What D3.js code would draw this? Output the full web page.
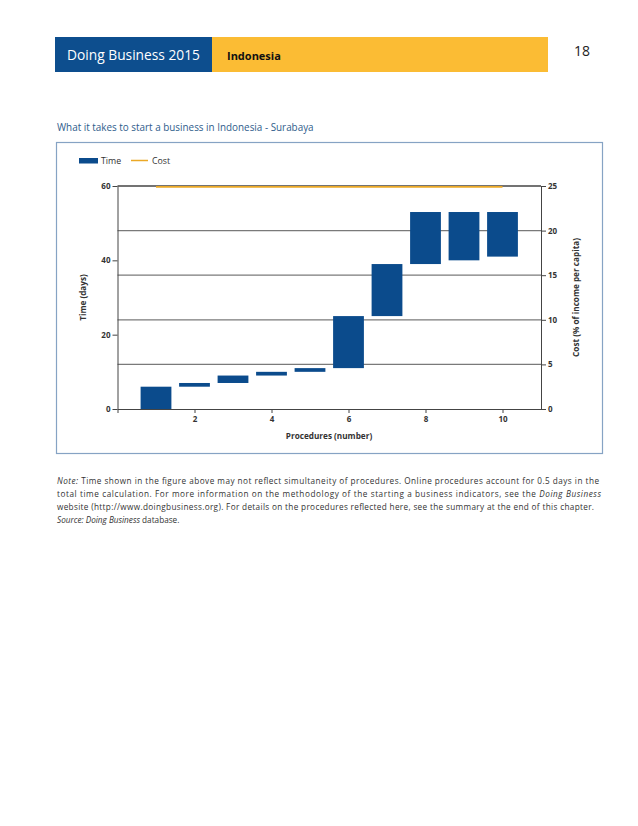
<!DOCTYPE html>
<html>
<head>
<meta charset="utf-8">
<script src="https://cdn.jsdelivr.net/npm/d3@7"></script>
<style>
  html, body { margin: 0; padding: 0; background: #fff; }
  svg { display: block; }
  text { font-family: "Open Sans", "Noto Sans", sans-serif; }
</style>
</head>
<body>
<svg id="chart" width="638" height="826"></svg>
<script>
// ---- data ----
const procedures = [1, 2, 3, 4, 5, 6, 7, 8, 9, 10];
const timeStart = [0, 6, 7, 9, 10, 11, 25, 39, 40, 41];
const timeEnd   = [6, 7, 9, 10, 11, 25, 39, 53, 53, 53];
const costValues = [24.9, 24.9, 24.9, 24.9, 24.9, 24.9, 24.9, 24.9, 24.9, 24.9];
const xTicks = [2, 4, 6, 8, 10];
const timeTicks = [0, 20, 40, 60];
const costTicks = [0, 5, 10, 15, 20, 25];
const gridCost = [5, 10, 15, 20, 25];

const svg = d3.select("#chart");
svg.append("rect").attr("width", 638).attr("height", 826).attr("fill", "#fff");

// ---- header banner ----
svg.append("rect").attr("x", 55).attr("y", 37).attr("width", 157).attr("height", 35).attr("fill", "#0d4e8e");
svg.append("rect").attr("x", 212).attr("y", 37).attr("width", 336).attr("height", 35).attr("fill", "#fbbc34");
svg.append("text").attr("x", 67).attr("y", 60).attr("fill", "#fff").attr("font-size", 14)
  .attr("textLength", 133).attr("lengthAdjust", "spacingAndGlyphs").text("Doing Business 2015");
svg.append("text").attr("x", 227).attr("y", 60).attr("fill", "#111").attr("font-size", 11).attr("font-weight", "bold").text("Indonesia");
svg.append("text").attr("x", 574).attr("y", 56).attr("fill", "#222").attr("font-size", 14).text("18");

// ---- chart title ----
svg.append("text").attr("x", 57).attr("y", 131).attr("fill", "#2f5d8c").attr("font-size", 9.9)
  .text("What it takes to start a business in Indonesia - Surabaya");

// ---- frame ----
svg.append("rect").attr("x", 56.5).attr("y", 142.5).attr("width", 546).attr("height", 311)
  .attr("fill", "none").attr("stroke", "#86a3c4").attr("stroke-width", 1.2);

// ---- scales ----
const x = d3.scaleLinear().domain([0, 11]).range([117.5, 541]);
const yT = d3.scaleLinear().domain([0, 60]).range([409, 186]);
const yC = d3.scaleLinear().domain([0, 25]).range([409, 186]);

// ---- gridlines ----
svg.append("g").selectAll("line").data(gridCost).join("line")
  .attr("x1", x(0)).attr("x2", x(11))
  .attr("y1", d => yC(d)).attr("y2", d => yC(d))
  .attr("stroke", d => d === 25 ? "#444" : "#7a7a7a").attr("stroke-width", 1.3);

// ---- bars ----
const barColor = "#0b4b8c";
const bw = 0.8;
svg.append("g").selectAll("rect").data(procedures).join("rect")
  .attr("x", (d) => x(d - bw / 2))
  .attr("width", (d) => x(d + bw / 2) - x(d - bw / 2))
  .attr("y", (d, i) => yT(timeEnd[i]))
  .attr("height", (d, i) => yT(timeStart[i]) - yT(timeEnd[i]))
  .attr("fill", barColor);

// ---- cost line ----
const line = d3.line().x((d, i) => x(procedures[i])).y(d => yC(d));
svg.append("path").datum(costValues).attr("d", line)
  .attr("fill", "none").attr("stroke", "#eba826").attr("stroke-width", 1.8);

// ---- axes ----
function styleAxis(g) {
  g.selectAll("path, line").attr("stroke", "#444").attr("stroke-width", 1);
  g.selectAll("text").attr("font-size", 8).attr("font-weight", "bold").attr("fill", "#333")
    .attr("font-family", "\"Open Sans\", sans-serif");
}
svg.append("g").attr("transform", `translate(${x(0)},0)`)
  .call(d3.axisLeft(yT).tickValues(timeTicks).tickSize(5).tickSizeOuter(0).tickPadding(2))
  .call(styleAxis);
svg.append("g").attr("transform", `translate(${x(11)},0)`)
  .call(d3.axisRight(yC).tickValues(costTicks).tickSize(5).tickSizeOuter(0).tickPadding(2))
  .call(styleAxis);
svg.append("g").attr("transform", `translate(0,${yT(0)})`)
  .call(d3.axisBottom(x).tickValues([0].concat(xTicks)).tickFormat(d => d === 0 ? "" : d).tickSize(4).tickSizeOuter(0).tickPadding(3))
  .call(styleAxis);

// axis titles
svg.append("text").attr("transform", `translate(86,${(yT(0) + yT(60)) / 2}) rotate(-90)`)
  .attr("text-anchor", "middle").attr("font-size", 8.2).attr("font-weight", "bold").attr("fill", "#333")
  .text("Time (days)");
svg.append("text").attr("transform", `translate(579,${(yC(0) + yC(25)) / 2}) rotate(-90)`)
  .attr("text-anchor", "middle").attr("font-size", 8.2).attr("font-weight", "bold").attr("fill", "#333")
  .text("Cost (% of income per capita)");
svg.append("text").attr("x", 329).attr("y", 439).attr("text-anchor", "middle")
  .attr("font-size", 8.2).attr("font-weight", "bold").attr("fill", "#333")
  .text("Procedures (number)");

// ---- legend ----
svg.append("rect").attr("x", 79).attr("y", 158).attr("width", 19).attr("height", 5.5).attr("fill", barColor);
svg.append("text").attr("x", 101).attr("y", 164).attr("font-size", 8.8).attr("fill", "#333").text("Time");
svg.append("line").attr("x1", 131).attr("x2", 148).attr("y1", 160.5).attr("y2", 160.5)
  .attr("stroke", "#eba826").attr("stroke-width", 1.5);
svg.append("text").attr("x", 152).attr("y", 164).attr("font-size", 8.8).attr("fill", "#333").text("Cost");

// ---- note ----
const noteLines = [
  { parts: [["Note:", true], [" Time shown in the figure above may not reflect simultaneity of procedures. Online procedures account for 0.5 days in the", false]], len: 542 },
  { parts: [["total time calculation. For more information on the methodology of the starting a business indicators, see the ", false], ["Doing Business", true]], len: 544 },
  { parts: [["website (http://www.doingbusiness.org). For details on the procedures reflected here, see the summary at the end of this chapter.", false]], len: 537 },
  { parts: [["Source: Doing Business", true], [" database.", false]], len: null }
];
const noteY = [484, 497, 510, 523];
noteLines.forEach((ln, i) => {
  const t = svg.append("text").attr("x", 57).attr("y", noteY[i]).attr("font-size", 8.2).attr("fill", "#333");
  if (ln.len) t.attr("textLength", ln.len).attr("lengthAdjust", "spacing");
  ln.parts.forEach(p => {
    t.append("tspan").attr("font-style", p[1] ? "italic" : "normal").text(p[0]);
  });
});
</script>
</body>
</html>
